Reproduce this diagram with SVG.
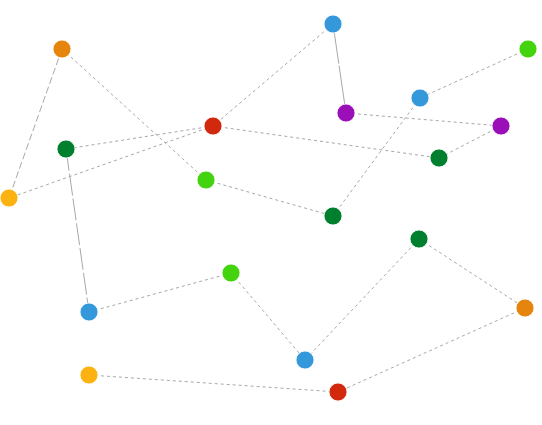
<svg xmlns="http://www.w3.org/2000/svg" width="542" height="425" viewBox="0 0 542 425">
<style>
.e{stroke:#a8a8a8;stroke-width:1;fill:none;stroke-dasharray:3,3}
.m{stroke-dasharray:7,3}
.l{stroke-dasharray:22,3}
.s{stroke-dasharray:40,2}
.n{stroke:#fff;stroke-width:0.8}
.or{fill:#e6850e}.bl{fill:#3498db}.gr{fill:#44d40f}.pu{fill:#9b0fb8}.rd{fill:#d2290e}.dg{fill:#00802f}.ye{fill:#fcb311}
</style>
<rect width="542" height="425" fill="#fff"/>
<g id="edges">
<line class="e m" x1="62" y1="49" x2="9" y2="198"/>
<line class="e" x1="62" y1="49" x2="206" y2="180"/>
<line class="e" x1="333" y1="24" x2="213" y2="126"/>
<line class="e s" x1="333" y1="24" x2="346" y2="113"/>
<line class="e" x1="528" y1="49" x2="420" y2="98"/>
<line class="e" x1="420" y1="98" x2="333" y2="216"/>
<line class="e" x1="346" y1="113" x2="501" y2="126"/>
<line class="e" x1="501" y1="126" x2="439" y2="158"/>
<line class="e" x1="213" y1="126" x2="66" y2="149"/>
<line class="e" x1="213" y1="126" x2="9" y2="198"/>
<line class="e" x1="213" y1="126" x2="439" y2="158"/>
<line class="e l" x1="66" y1="149" x2="89" y2="312"/>
<line class="e" x1="206" y1="180" x2="333" y2="216"/>
<line class="e" x1="419" y1="239" x2="305" y2="360"/>
<line class="e" x1="419" y1="239" x2="525" y2="308"/>
<line class="e" x1="231" y1="273" x2="89" y2="312"/>
<line class="e" x1="231" y1="273" x2="305" y2="360"/>
<line class="e" x1="525" y1="308" x2="338" y2="392"/>
<line class="e" x1="89" y1="375" x2="338" y2="392"/>
</g>
<g id="n1"><circle class="n or" cx="62" cy="49" r="9"/></g>
<g id="n2"><circle class="n bl" cx="333" cy="24" r="9"/></g>
<g id="n3"><circle class="n gr" cx="528" cy="49" r="9"/></g>
<g id="n4"><circle class="n bl" cx="420" cy="98" r="9"/></g>
<g id="n5"><circle class="n pu" cx="346" cy="113" r="9"/></g>
<g id="n6"><circle class="n pu" cx="501" cy="126" r="9"/></g>
<g id="n7"><circle class="n rd" cx="213" cy="126" r="9"/></g>
<g id="n8"><circle class="n dg" cx="66" cy="149" r="9"/></g>
<g id="n9"><circle class="n dg" cx="439" cy="158" r="9"/></g>
<g id="n10"><circle class="n ye" cx="9" cy="198" r="9"/></g>
<g id="n11"><circle class="n gr" cx="206" cy="180" r="9"/></g>
<g id="n12"><circle class="n dg" cx="333" cy="216" r="9"/></g>
<g id="n13"><circle class="n dg" cx="419" cy="239" r="9"/></g>
<g id="n14"><circle class="n gr" cx="231" cy="273" r="9"/></g>
<g id="n15"><circle class="n bl" cx="89" cy="312" r="9"/></g>
<g id="n16"><circle class="n or" cx="525" cy="308" r="9"/></g>
<g id="n17"><circle class="n bl" cx="305" cy="360" r="9"/></g>
<g id="n18"><circle class="n ye" cx="89" cy="375" r="9"/></g>
<g id="n19"><circle class="n rd" cx="338" cy="392" r="9"/></g>
</svg>
